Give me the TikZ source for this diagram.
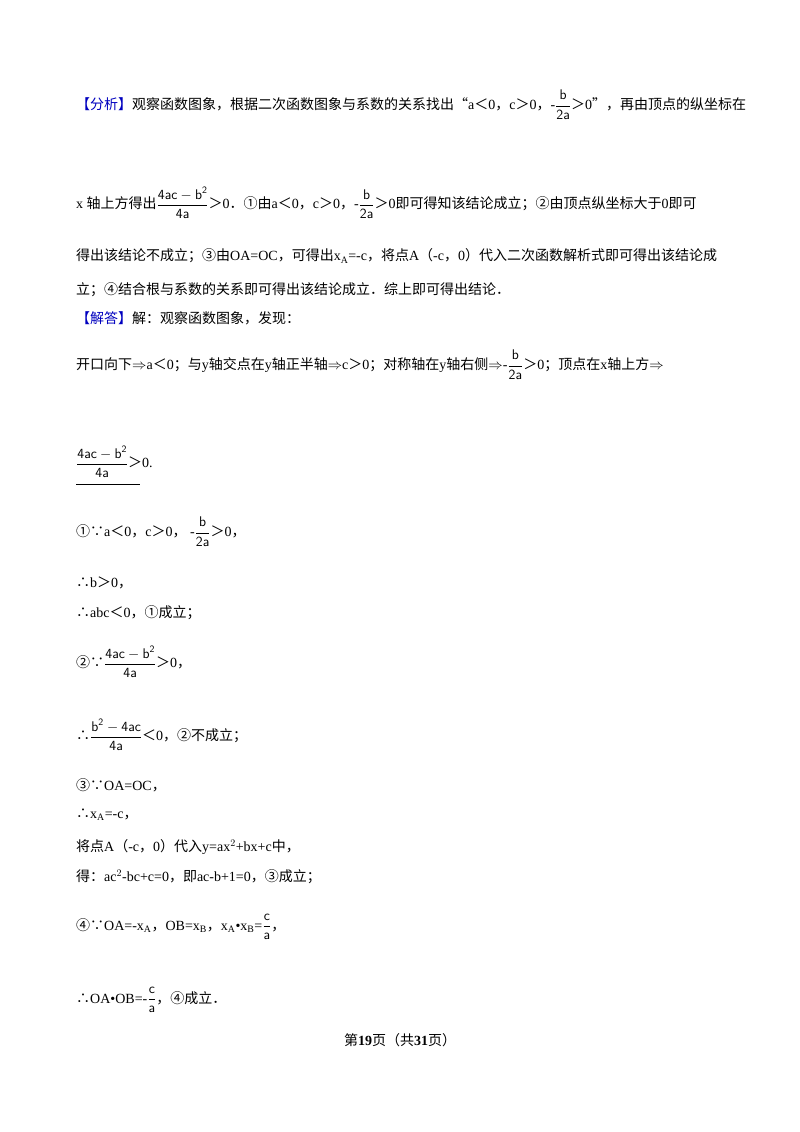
\documentclass[tikz,border=0pt]{standalone}
\usepackage{amsmath}
\usepackage{fontspec}
\setmainfont{Liberation Serif}
\newfontfamily\cjk{Noto Sans CJK SC}
\newcommand\C[1]{{\cjk #1}}
\newcommand\fr[2]{$\dfrac{\mathsf{#1}}{\mathsf{#2}}$}
\begin{document}
\begin{tikzpicture}[x=1pt,y=-1pt,every node/.style={anchor=west,inner sep=0pt,font=\fontsize{14}{16}\selectfont},
 hl/.style={text=blue!75!black}]
\useasboundingbox[fill=white] (0,0) rectangle (800,1132);
\node (l1) at (76,105) {{\color{blue!75!black}\C{【分析】}}\C{观察函数图象，根据二次函数图象与系数的关系找出“}a\C{＜}0\C{，}c\C{＞}0\C{，}-\fr{b}{2a}\C{＞}0\C{”，再由顶点的纵坐标在}};
\node (l2) at (76,203) {x \C{轴上方得出}\fr{4ac-b^2}{4a}\C{＞}0\C{．①由}a\C{＜}0\C{，}c\C{＞}0\C{，}-\fr{b}{2a}\C{＞}0\C{即可得知该结论成立；②由顶点纵坐标大于}0\C{即可}};
\node (l3) at (76,256) {\C{得出该结论不成立；③由}OA=OC\C{，可得出}x$_{\mathrm A}$=-c\C{，将点}A\C{（}-c\C{，}0\C{）代入二次函数解析式即可得出该结论成}};
\node (l4) at (76,290) {\C{立；④结合根与系数的关系即可得出该结论成立．综上即可得出结论．}};
\node (l5) at (76,318) {{\color{blue!75!black}\C{【解答】}}\C{解：观察函数图象，发现：}};
\node (l6) at (76,365) {\C{开口向下}$\Rightarrow$a\C{＜}0\C{；与}y\C{轴交点在}y\C{轴正半轴}$\Rightarrow$c\C{＞}0\C{；对称轴在}y\C{轴右侧}$\Rightarrow$-\fr{b}{2a}\C{＞}0\C{；顶点在}x\C{轴上方}$\Rightarrow$};
\node (l7) at (76,462) {\fr{4ac-b^2}{4a}\C{＞}0.};
\draw (76,484) -- (140,484);
\node (l8) at (76,532) {\C{①∵}a\C{＜}0\C{，}c\C{＞}0\C{，} -\fr{b}{2a}\C{＞}0\C{，}};
\node (l9) at (76,583) {\C{∴}b\C{＞}0\C{，}};
\node (l10) at (76,613) {\C{∴}abc\C{＜}0\C{，①成立；}};
\node (l11) at (76,662) {\C{②∵}\fr{4ac-b^2}{4a}\C{＞}0\C{，}};
\node (l12) at (76,735) {\C{∴}\fr{b^2-4ac}{4a}\C{＜}0\C{，②不成立；}};
\node (l13) at (76,785) {\C{③∵}OA=OC\C{，}};
\node (l14) at (76,815) {\C{∴}x$_{\mathrm A}$=-c\C{，}};
\node (l15) at (76,847) {\C{将点}A\C{（}-c\C{，}0\C{）代入}y=ax$^2$+bx+c\C{中，}};
\node (l16) at (76,877) {\C{得：}ac$^2$-bc+c=0\C{，即}ac-b+1=0\C{，③成立；}};
\node (l17) at (76,927) {\C{④∵}OA=-x$_{\mathrm A}$\C{，}OB=x$_{\mathrm B}$\C{，}x$_{\mathrm A}$\textbullet x$_{\mathrm B}$=\fr{c}{a}\C{，}};
\node (l18) at (76,1000) {\C{∴}OA\textbullet OB=-\fr{c}{a}\C{，④成立．}};
\node[anchor=center] (ft) at (400,1040) {\C{第}\textbf{19}\C{页（共}\textbf{31}\C{页）}};
\end{tikzpicture}
\end{document}
